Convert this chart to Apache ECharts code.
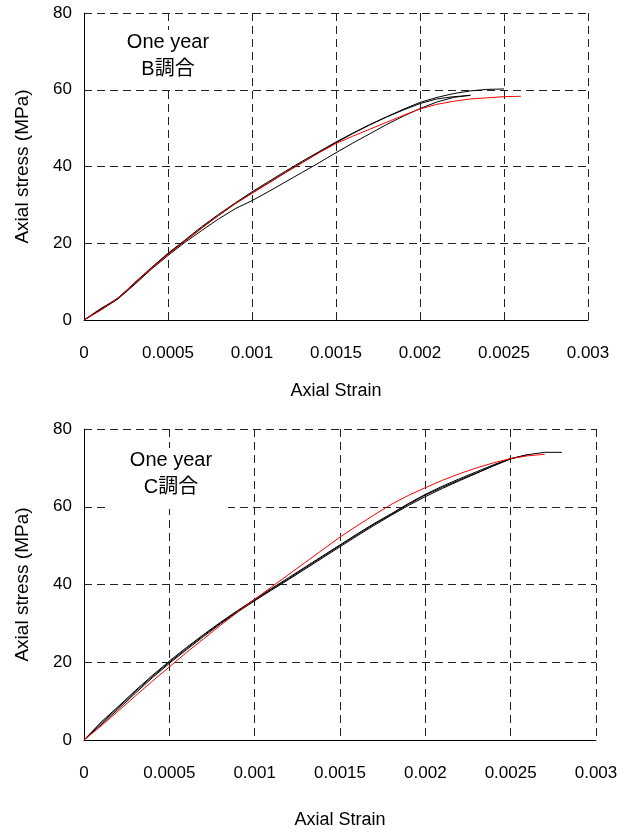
<!DOCTYPE html>
<html>
<head>
<meta charset="utf-8">
<script src="https://cdn.jsdelivr.net/npm/echarts@6/dist/echarts.min.js"></script>
<style>
  html, body { margin: 0; padding: 0; background: #fff; }
  #chart { width: 634px; height: 834px; }
</style>
</head>
<body>
<div id="chart"></div>
<script>
// strain grid shared by all curves (step 0.0001)
const strain = [0, 0.0001, 0.0002, 0.0003, 0.0004, 0.0005, 0.0006, 0.0007, 0.0008, 0.0009,
  0.001, 0.0011, 0.0012, 0.0013, 0.0014, 0.0015, 0.0016, 0.0017, 0.0018, 0.0019,
  0.002, 0.0021, 0.0022, 0.0023, 0.0024, 0.0025, 0.0026, 0.0027, 0.0028];

// B調合 (top) - stress in MPa
const bBlack1 = [0, 2.8, 5.7, 9.4, 13.5, 17.2, 20.6, 24.0, 27.2, 30.3, 33.1, 35.8, 38.5, 41.1, 43.7, 46.2, 48.6, 50.8, 52.9, 54.9, 56.7, 58.0, 59.0, 59.7, 60.1, 60.2];
const bBlack2 = [0, 3.0, 5.5, 9.7, 13.6, 17.4, 20.8, 24.3, 27.5, 30.5, 33.4, 36.1, 38.8, 41.4, 43.9, 46.4, 48.7, 50.9, 52.9, 54.7, 56.4, 57.6, 58.2, 58.5];
const bBlack3 = [0, 2.6, 5.4, 9.2, 13.2, 16.8, 20.2, 23.3, 26.3, 29.0, 31.1, 33.5, 36.0, 38.5, 41.0, 43.6, 46.1, 48.5, 50.9, 53.1, 55.1, 56.8, 58.0, 58.6];
const bRed = [0, 2.6, 5.6, 9.6, 13.4, 17.0, 20.5, 23.9, 27.2, 30.3, 33.0, 35.7, 38.4, 41.0, 43.6, 46.0, 47.9, 49.7, 51.5, 53.3, 55.0, 56.2, 57.0, 57.6, 57.9, 58.2, 58.3];

// C調合 (bottom)
const cBlack1 = [0, 4.3, 8.3, 12.4, 16.3, 20.0, 23.5, 26.9, 30.1, 33.1, 36.0, 38.8, 41.5, 44.4, 47.2, 50.0, 52.8, 55.5, 58.0, 60.6, 63.0, 65.0, 66.9, 68.7, 70.5, 72.3, 73.4, 74.0, 74.0];
const cBlack2 = [0, 3.9, 7.9, 12.0, 16.0, 19.7, 23.2, 26.6, 29.9, 32.9, 35.8, 38.6, 41.3, 44.1, 46.9, 49.7, 52.5, 55.2, 57.8, 60.3, 62.6, 64.7, 66.7, 68.6, 70.6, 72.4, 73.4];
const cBlack3 = [0, 4.6, 8.6, 12.7, 16.6, 20.3, 23.8, 27.1, 30.3, 33.3, 36.2, 39.0, 41.8, 44.6, 47.4, 50.2, 53.0, 55.7, 58.2, 60.8, 63.2, 65.3, 67.2, 69.0, 70.8, 72.4];
const cRed = [0, 3.6, 7.4, 11.3, 15.1, 18.8, 22.5, 26.0, 29.5, 32.9, 36.2, 39.4, 42.6, 45.8, 49.0, 52.2, 55.1, 57.9, 60.6, 62.9, 64.9, 66.8, 68.5, 70.0, 71.3, 72.4, 73.1, 73.5];

const xTicks = ['0', '0.0005', '0.001', '0.0015', '0.002', '0.0025', '0.003'];

const font = '"Liberation Sans", Arial, "Noto Sans CJK JP", sans-serif';
const pairs = (ys) => ys.map((y, i) => [strain[i], y]);

const gridLine = { show: true, lineStyle: { color: '#222', type: [8, 5], width: 1 } };

function xAxis(idx, margin, gap) {
  return {
    type: 'value', gridIndex: idx, min: 0, max: 0.003, interval: 0.0005,
    name: 'Axial Strain', nameLocation: 'middle', nameGap: gap,
    nameTextStyle: { fontFamily: font, fontSize: 18, color: '#000' },
    axisLine: { show: true, lineStyle: { color: '#000', width: 1 } },
    axisTick: { show: false },
    axisLabel: { margin: margin, fontFamily: font, fontSize: 17, color: '#000',
      formatter: (v) => xTicks[Math.round(v / 0.0005)] },
    splitLine: gridLine
  };
}
function yAxis(idx) {
  return {
    type: 'value', gridIndex: idx, min: 0, max: 80, interval: 20,
    name: 'Axial stress (MPa)', nameLocation: 'middle', nameGap: 52,
    nameTextStyle: { fontFamily: font, fontSize: 19, color: '#000' },
    axisLine: { show: true, lineStyle: { color: '#000', width: 1 } },
    axisTick: { show: false },
    axisLabel: { margin: 12, fontFamily: font, fontSize: 17, color: '#000' },
    splitLine: gridLine
  };
}
function line(data, color, idx) {
  return {
    type: 'line', xAxisIndex: idx, yAxisIndex: idx, data: pairs(data),
    showSymbol: false, symbol: 'none', animation: false,
    lineStyle: { color: color, width: 1 }, z: color === '#ff0000' ? 3 : 2
  };
}
function label(text, x, y) {
  return { type: 'text', x: x, y: y, z: 10,
    style: { text: text, font: '20px ' + font, fill: '#000', textAlign: 'center', textVerticalAlign: 'middle' } };
}

const options = {
  backgroundColor: '#fff',
  animation: false,
  grid: [
    { left: 84, top: 13, width: 504, height: 307 },
    { left: 84, top: 429, width: 512, height: 311 }
  ],
  xAxis: [xAxis(0, 25, 62), xAxis(1, 25, 71)],
  yAxis: [yAxis(0), yAxis(1)],
  graphic: [
    // white boxes behind the in-plot text
    { type: 'rect', z: 9, shape: { x: 108, y: 30, width: 120, height: 58 }, style: { fill: '#fff' } },
    { type: 'rect', z: 9, shape: { x: 108, y: 448, width: 120, height: 61 }, style: { fill: '#fff' } },
    label('One year', 168, 42),
    label('B調合', 168, 69),
    label('One year', 171, 460),
    label('C調合', 171, 487)
  ],
  series: [
    line(bBlack1, '#000', 0),
    line(bBlack2, '#000', 0),
    line(bBlack3, '#000', 0),
    line(bRed, '#ff0000', 0),
    line(cBlack1, '#000', 1),
    line(cBlack2, '#000', 1),
    line(cBlack3, '#000', 1),
    line(cRed, '#ff0000', 1)
  ]
};

echarts.init(document.getElementById('chart')).setOption(options);
</script>
</body>
</html>
